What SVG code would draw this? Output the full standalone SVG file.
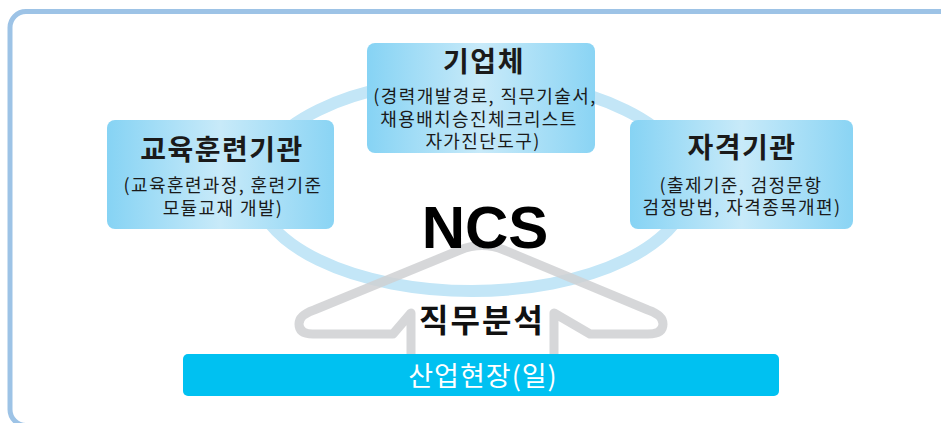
<svg xmlns="http://www.w3.org/2000/svg" width="941" height="423" viewBox="0 0 941 423">
  <style>
    .kr { font-family: "Noto Sans CJK KR", "Noto Sans", sans-serif; }
    .title { font-size: 28px; font-weight: 700; fill: #1a1a1a; text-anchor: middle; letter-spacing: 1.5px; }
    .sub { font-size: 18px; font-weight: 400; fill: #1a1a1a; text-anchor: middle; letter-spacing: 1.4px; }
    .box { fill: url(#boxGrad); }
  </style>
  <defs>
    <linearGradient id="boxGrad" x1="0" y1="0" x2="1" y2="0">
      <stop offset="0" stop-color="#86d3f4"/>
      <stop offset="0.5" stop-color="#c8eaf9"/>
      <stop offset="1" stop-color="#8ad4f4"/>
    </linearGradient>
  </defs>
  <rect width="941" height="423" fill="#ffffff"/>
  <rect id="frame" x="10" y="11.5" width="950" height="414" rx="16" fill="none" stroke="#9dc3e6" stroke-width="5"/>

  <g id="connectors">
    <ellipse id="ring" cx="472" cy="185" rx="217" ry="106" fill="none" stroke="#c3e6f7" stroke-width="12"/>
    <path id="arrow" d="M 411 360 L 411 313 L 393 334 L 313 334 Q 299 334 299 324 Q 299 315 314 310 L 460 250 Q 482 241 504 250 L 648 310 Q 663 315 663 324 Q 663 334 648 334 L 590 334 L 554 313 L 554 360" fill="none" stroke="#cfd0d2" stroke-opacity="0.85" stroke-width="9" stroke-linejoin="round"/>
  </g>

  <g id="node-edu">
    <rect class="box" x="107" y="120" width="227" height="109" rx="8"/>
    <text class="kr title" x="222" y="160">교육훈련기관</text>
    <text class="kr sub" x="223" y="192">(교육훈련과정, 훈련기준</text>
    <text class="kr sub" x="223" y="215">모듈교재 개발)</text>
  </g>

  <g id="node-company">
    <rect class="box" x="367" y="43" width="228" height="110" rx="8"/>
    <text class="kr title" x="484" y="72">기업체</text>
    <text class="kr sub" x="485" y="103">(경력개발경로, 직무기술서,</text>
    <text class="kr sub" x="479" y="126">채용배치승진체크리스트</text>
    <text class="kr sub" x="483" y="148">자가진단도구)</text>
  </g>

  <g id="node-cert">
    <rect class="box" x="630" y="120" width="223" height="109" rx="8"/>
    <text class="kr title" x="742" y="158">자격기관</text>
    <text class="kr sub" x="741" y="192">(출제기준, 검정문항</text>
    <text class="kr sub" x="742" y="214">검정방법, 자격종목개편)</text>
  </g>

  <g id="node-ncs">
    <text x="485" y="248" font-family="Liberation Sans, Arial, sans-serif" font-size="60" font-weight="700" fill="#000000" text-anchor="middle">NCS</text>
  </g>

  <g id="node-analysis">
    <text class="kr" x="482" y="332" font-size="32" font-weight="700" fill="#111111" text-anchor="middle" letter-spacing="2">직무분석</text>
  </g>

  <g id="node-field">
    <rect x="183" y="354" width="596" height="42" rx="5" fill="#00c1f1"/>
    <text class="kr" x="483" y="386" font-size="27" font-weight="400" fill="#ffffff" text-anchor="middle" letter-spacing="1">산업현장(일)</text>
  </g>
</svg>
